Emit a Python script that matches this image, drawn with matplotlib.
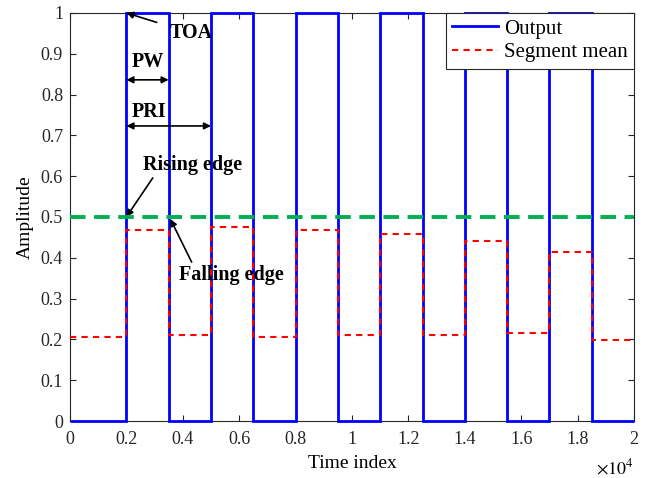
import numpy as np
import matplotlib.pyplot as plt
from matplotlib.ticker import FuncFormatter

# pulse edges (time index) and levels
edges = [0, 2000, 3500, 5000, 6500, 8000, 9500, 11000, 12500, 14000, 15500, 17000, 18500, 20000]
output_levels = [0, 1, 0, 1, 0, 1, 0, 1, 0, 1, 0, 1, 0]
segment_means = [0.205, 0.468, 0.21, 0.475, 0.205, 0.468, 0.21, 0.458, 0.212, 0.442, 0.215, 0.415, 0.198]
threshold = 0.5

plt.rcParams['font.family'] = ['Liberation Serif', 'DejaVu Serif']
plt.rcParams['mathtext.fontset'] = 'stix'

fig = plt.figure(figsize=(6.45, 4.78), dpi=100)
ax = fig.add_axes([0.1085, 0.1192, 0.8745, 0.8538])

ax.stairs(output_levels, edges, baseline=None, color='blue', lw=2, label='Output', clip_on=False, zorder=3)
ax.stairs(segment_means, edges, baseline=None, color='red', lw=1.5, linestyle=(0, (3, 2.5)),
          label='Segment mean', zorder=4)
ax.axhline(threshold, color='#00b050', lw=2.8, linestyle=(0, (4, 2.2)), zorder=5)

ax.set_xlim(0, 20000)
ax.set_ylim(0, 1)
ax.set_xticks(np.arange(0, 20001, 2000))
ax.set_yticks(np.arange(0, 1.01, 0.1))
ax.xaxis.set_major_formatter(FuncFormatter(lambda v, p: f'{v/1e4:g}'))
ax.yaxis.set_major_formatter(FuncFormatter(lambda v, p: f'{v:g}'))
ax.tick_params(direction='in', top=True, right=True, labelsize=13, colors='#262626', length=4)
ax.tick_params(axis='x', pad=7)
ax.tick_params(axis='y', pad=5)
for s in ax.spines.values():
    s.set_color('#262626')
    s.set_linewidth(0.8)

ax.set_xlabel('Time index', fontsize=14, labelpad=5)
ax.set_ylabel('Amplitude', fontsize=14, labelpad=5)
ax.text(1.0, -0.115, r'$\times10^4$', transform=ax.transAxes, ha='right', va='center', fontsize=13)

bold = dict(fontsize=14.5, fontweight='bold')
ax.annotate('TOA', xy=(2000, 1.0), xytext=(3550, 0.95), va='center', ha='left',
            arrowprops=dict(arrowstyle='-|>', color='black', lw=1.2, shrinkA=8, shrinkB=0, mutation_scale=10), **bold)
ax.annotate('', xy=(2000, 0.836), xytext=(3500, 0.836),
            arrowprops=dict(arrowstyle='<|-|>', color='black', lw=1.2, shrinkA=0, shrinkB=0, mutation_scale=10))
ax.text(2750, 0.88, 'PW', ha='center', va='center', **bold)
ax.annotate('', xy=(2000, 0.723), xytext=(5000, 0.723),
            arrowprops=dict(arrowstyle='<|-|>', color='black', lw=1.2, shrinkA=0, shrinkB=0, mutation_scale=10))
ax.text(2180, 0.757, 'PRI', ha='left', va='center', **bold)
ax.annotate('Rising edge', xy=(2000, 0.5), xytext=(2580, 0.627), va='center', ha='left',
            arrowprops=dict(arrowstyle='-|>', color='black', lw=1.2, shrinkA=0, shrinkB=0,
                            mutation_scale=10, relpos=(0.12, 0.0)), **bold)
ax.annotate('Falling edge', xy=(3560, 0.495), xytext=(3880, 0.358), va='center', ha='left',
            arrowprops=dict(arrowstyle='-|>', color='black', lw=1.2, shrinkA=0, shrinkB=0,
                            mutation_scale=10, relpos=(0.13, 1.0)), **bold)

leg = ax.legend(loc='upper right', fontsize=15, frameon=True, fancybox=False, edgecolor='#262626',
                framealpha=1, borderaxespad=0, handlelength=2.2, handletextpad=0.3,
                borderpad=0.3, labelspacing=0.2)
leg.get_frame().set_linewidth(0.8)

fig.savefig('out.png', dpi=100)
